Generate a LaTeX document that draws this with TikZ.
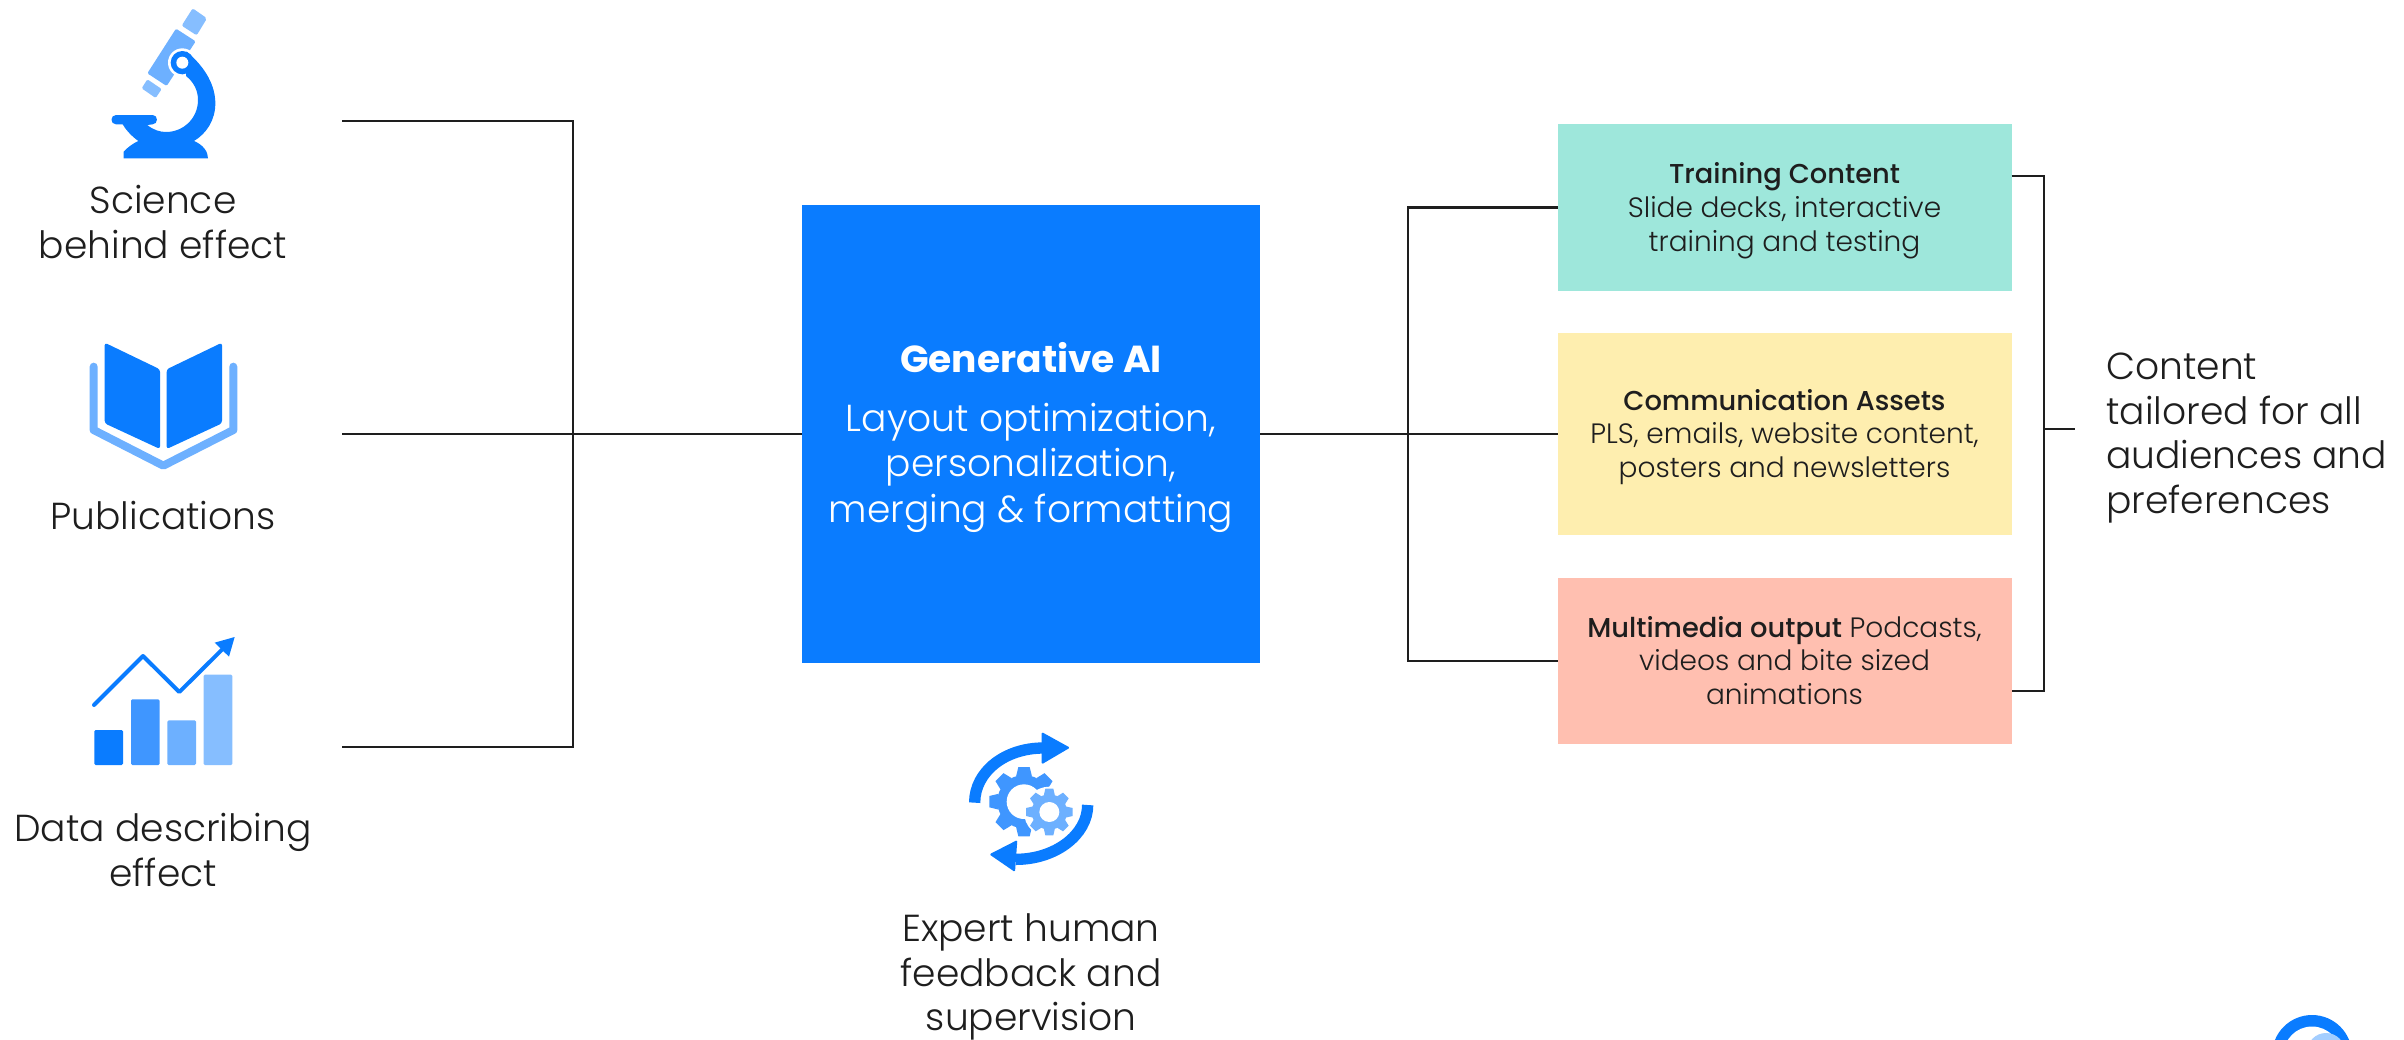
\documentclass[tikz,border=0pt]{standalone}
\usepackage{fontspec}
\setmainfont{Poppins Light}[BoldFont=Poppins SemiBold]
\newfontfamily\pmed[Scale=0.975]{Poppins Medium}
\newfontfamily\pbold{Poppins Bold}
\definecolor{bluea}{HTML}{0A7CFF}
\definecolor{blueb}{HTML}{3F96FF}
\definecolor{bluec}{HTML}{6DB0FF}
\definecolor{blued}{HTML}{86BEFF}
\definecolor{teal1}{HTML}{9EE7DB}
\definecolor{yell1}{HTML}{FEEEAF}
\definecolor{salm1}{HTML}{FFBFB0}
\definecolor{ink}{HTML}{1E1E1E}
\tikzset{
 conn/.style={draw=ink,line width=2.15pt},
 big/.style={font=\fontsize{28.2}{33.4}\selectfont,text=ink,align=center,inner sep=0pt},
 outbox/.style={font=\fontsize{21}{25.4}\selectfont,text=ink,align=center,inner sep=0pt,outer sep=0pt,minimum width=340.5pt},
 icon/.style={x=0.25pt,y=-0.25pt},
}
\newcommand{\mygear}[7]{%
 \foreach \k in {1,...,8}{
  \fill[#6,rotate around={\k*45:(#1,#2)}]
   (#1-#7*1.4,#2-#4+4) -- (#1-#7,#2-#3) -- (#1+#7,#2-#3) -- (#1+#7*1.4,#2-#4+4) -- cycle;
 }
 \fill[#6] (#1,#2) circle[radius=#4];
 \fill[white] (#1,#2) circle[radius=#5];
}
\begin{document}
\begin{tikzpicture}[x=0.75pt,y=-0.75pt]
\useasboundingbox (0,0) rectangle (2404,1039);
\fill[white] (0,0) rectangle (2404,1039);

% coordinates
\coordinate (l1) at (342,121);
\coordinate (l2) at (342,434);
\coordinate (l3) at (342,747);
\coordinate (lhub) at (573,434);
\coordinate (rhub) at (1408,434);
\coordinate (b1) at (2044,176);
\coordinate (b3) at (2044,691);
\coordinate (bmid) at (2044,429);
\coordinate (bout) at (2075,429);

% main boxes
\node[fill=bluea,minimum width=343.5pt,minimum height=343.5pt,inner sep=0pt,outer sep=0pt] (ai) at (1031,434) {};
\node[text=white,align=center,font=\fontsize{28.2}{34}\selectfont,inner sep=0pt] (aitext) at (1031,437)
 {{\pbold Generative AI}\\[10.5pt]Layout optimization,\\personalization,\\merging \& formatting};
\node[outbox,fill=teal1,minimum height=125.25pt] (t) at (1784.5,207.5) {};
\node[outbox] (ttext) at (1784.5,210.5)
 {{\pmed Training Content}\\Slide decks, interactive\\training and testing};
\node[outbox,fill=yell1,minimum height=151.5pt] (c) at (1784.5,434) {};
\node[outbox] (ctext) at (1784.5,437)
 {{\pmed Communication Assets}\\PLS, emails, website content,\\posters and newsletters};
\node[outbox,fill=salm1,minimum height=124.5pt] (m) at (1784.5,661) {};
\node[outbox] (mtext) at (1784.5,660.5)
 {{\pmed Multimedia output} Podcasts,\\videos and bite sized\\animations};

% connectors
\draw[conn] (l1) -| (lhub);
\draw[conn] (l3) -| (lhub);
\draw[conn] (l2) -- (ai.west);
\draw[conn] (ai.east) -- (rhub);
\draw[conn] (rhub) |- (t.west);
\draw[conn] (rhub) |- (m.west);
\draw[conn] (rhub) -- (c.west);
\draw[conn] (t.east |- b1) -| (bmid) |- (m.east |- b3);
\draw[conn] (bmid) -- (bout);

% labels
\node[big] (s) at (163,222) {Science\\behind effect};
\node[big] (p) at (163,516) {Publications};
\node[big] (d) at (163,850) {Data describing\\effect};
\node[big] (e) at (1031,977) {Expert human\\feedback and\\supervision};
\node[big,anchor=west,align=left] (o) at (2106,438) {Content\\tailored for all\\audiences and\\preferences};

% microscope
\begin{scope}[shift={(60,0)},icon]
 \fill[blued,rounded corners=1.5pt] (398,25) -- (441,55) -- (410,106) -- (365,77) -- cycle;
 \fill[bluec,rounded corners=1pt] (348,86) -- (407,124) -- (320,258) -- (262,220) -- cycle;
 \fill[blued,rounded corners=1pt] (262,238) -- (305,267) -- (287,294) -- (245,265) -- cycle;
 \fill[white] (367,188) circle[radius=43];
 \fill[bluea] (380,155) .. controls (440,205) and (466,260) .. (466,310)
  .. controls (466,360) and (440,400) .. (402,423)
  .. controls (430,435) and (444,455) .. (444,475)
  -- (191,475) -- (191,455)
  .. controls (205,440) and (220,430) .. (235,423)
  .. controls (210,405) and (195,385) .. (188,373)
  -- (168,373) .. controls (150,373) and (150,345) .. (168,345)
  -- (278,345) .. controls (295,345) and (295,373) .. (278,373)
  -- (262,375) .. controls (280,390) and (300,396) .. (318,396)
  .. controls (370,396) and (414,355) .. (414,300)
  .. controls (414,270) and (400,245) .. (378,228) -- cycle;
 \fill[bluea] (367,188) circle[radius=35];
 \fill[white] (367,188) circle[radius=18];
\end{scope}

% book
\begin{scope}[shift={(60,320)},icon]
 \draw[bluec,line width=6pt,line cap=round,line join=round] (101,140) -- (101,330) -- (310,437) -- (520,330) -- (520,140);
 \fill[bluea,rounded corners=2pt] (134,68) -- (300,148) -- (300,387) -- (134,310) -- cycle;
 \fill[bluea,rounded corners=2pt] (486,68) -- (320,148) -- (320,387) -- (486,310) -- cycle;
\end{scope}

% chart
\begin{scope}[shift={(60,620)},icon]
 \fill[bluea,rounded corners=1pt] (103,330) rectangle (189,435);
 \fill[blueb,rounded corners=1pt] (213,238) rectangle (299,435);
 \fill[bluec,rounded corners=1pt] (322,301) rectangle (408,435);
 \fill[blued,rounded corners=1pt] (431,164) rectangle (517,435);
 \draw[bluea,line width=3pt,line cap=round,line join=round] (102,255) -- (249,108) -- (358,216) -- (490,85);
 \fill[bluea] (524,51) -- (464,68) -- (507,110) -- cycle;
\end{scope}

% gears and arrows
\begin{scope}[shift={(940,710)},icon]
 \draw[bluea,line width=8.5pt] (104,278) .. controls (104,185) and (195,114) .. (310,114);
 \fill[bluea,rounded corners=1pt] (305,66) -- (390,113) -- (305,163) -- cycle;
 \draw[bluea,line width=8.5pt] (443,285) .. controls (443,375) and (345,448) .. (228,448);
 \fill[bluea,rounded corners=1pt] (232,390) -- (148,433) -- (225,486) -- cycle;
 \mygear{252}{275}{104}{80}{52}{blueb}{17}
 \fill[white] (328,306) circle[radius=76];
 \mygear{328}{306}{70}{53}{30}{bluec}{12}
\end{scope}

% cut-off mark
\begin{scope}
 \clip (0,0) rectangle (2404,1039);
 \fill[bluea] (2312,1055) circle[radius=40];
 \fill[white] (2312,1055) circle[radius=28.5];
 \fill[blued!75] (2326,1052) circle[radius=19];
\end{scope}
\end{tikzpicture}
\end{document}
